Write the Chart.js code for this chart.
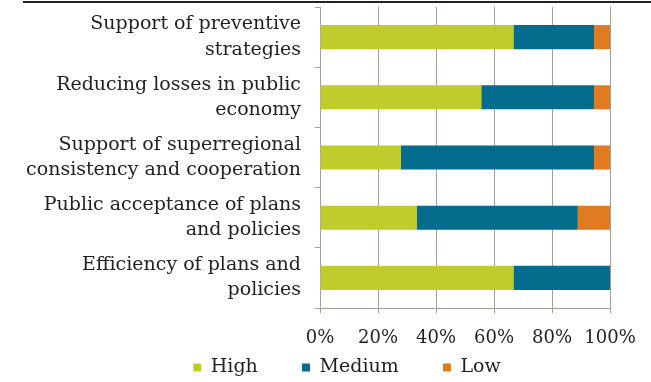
<!DOCTYPE html>
<html>
<head>
<meta charset="utf-8">
<script src="https://cdn.jsdelivr.net/npm/chart.js@4"></script>
<style>
  html, body { margin: 0; padding: 0; background: #fff; }
  #wrap { position: relative; width: 651px; height: 382px; }
  #rule { position: absolute; left: 23px; right: 0; top: 1px; border-top: 2px solid #222; }
</style>
</head>
<body>
<div id="wrap">
  <div id="rule"></div>
  <canvas id="benefitChart" width="651" height="382"></canvas>
</div>
<script>
const categories = [
    ['Support of preventive', 'strategies'],
    ['Reducing losses in public', 'economy'],
    ['Support of superregional', 'consistency and cooperation'],
    ['Public acceptance of plans', 'and policies'],
    ['Efficiency of plans and', 'policies'],
];
const highValues = [66.7, 55.6, 27.8, 33.3, 66.7];
const mediumValues = [27.8, 38.9, 66.7, 55.6, 33.3];
const lowValues = [5.5, 5.5, 5.5, 11.1, 0];
const xTicks = [0, 20, 40, 60, 80, 100];

const serif = 'DejaVu Serif, serif';
const gridColor = '#a99d95';
const textColor = '#231f20';

// nudge the legend right and down, as in the source figure
const legendShift = {
    id: 'legendShift',
    afterLayout(chart) {
        const l = chart.legend;
        l.left += 42;
        l.right += 42;
        l.top += 5;
        l.bottom += 5;
    },
};

function PopulateBenefitChart() {
    let ctx = document.getElementById('benefitChart').getContext('2d');

    const data = {
        labels: categories,
        datasets: [
            { label: 'High', data: highValues, backgroundColor: '#bfcc2b' },
            { label: 'Medium', data: mediumValues, backgroundColor: '#046d8e' },
            { label: 'Low', data: lowValues, backgroundColor: '#e07b22' },
        ],
    };

    new Chart(ctx, {
        type: 'bar',
        data: data,
        plugins: [legendShift],
        options: {
            indexAxis: 'y',
            responsive: false,
            animation: false,
            datasets: {
                bar: { categoryPercentage: 0.8, barPercentage: 0.5 },
            },
            layout: { padding: { top: 7, right: 41, bottom: 0, left: 0 } },
            plugins: {
                tooltip: { enabled: false },
                legend: {
                    position: 'bottom',
                    labels: {
                        font: { family: serif, size: 19 },
                        color: textColor,
                        boxWidth: 8,
                        boxHeight: 8,
                        padding: 8,
                        generateLabels: chart => {
                            const items = Chart.defaults.plugins.legend.labels.generateLabels(chart);
                            items.forEach((it, i) => {
                                if (i < items.length - 1) it.text += '\u00a0\u00a0\u00a0\u00a0\u00a0\u00a0';
                            });
                            return items;
                        },
                    },
                },
            },
            scales: {
                x: {
                    stacked: true,
                    min: 0,
                    max: 100,
                    afterBuildTicks: s => { s.ticks = xTicks.map(v => ({ value: v })); },
                    afterFit: s => { s.height = 37; },
                    ticks: {
                        callback: v => v + '%',
                        font: { family: serif, size: 18 },
                        color: textColor,
                        padding: 15,
                    },
                    grid: { color: gridColor, tickLength: 5 },
                    border: { color: gridColor },
                },
                y: {
                    stacked: true,
                    afterFit: s => {
                        s.width = 320;
                        s.paddingTop = 0;
                        s.paddingBottom = 0;
                    },
                    ticks: {
                        autoSkip: false,
                        font: { family: serif, size: 19, lineHeight: 1.32 },
                        color: textColor,
                        padding: 14,
                    },
                    grid: { drawOnChartArea: false, color: gridColor, tickLength: 5 },
                    border: { color: gridColor },
                },
            },
        },
    });
}

PopulateBenefitChart();
</script>
</body>
</html>
